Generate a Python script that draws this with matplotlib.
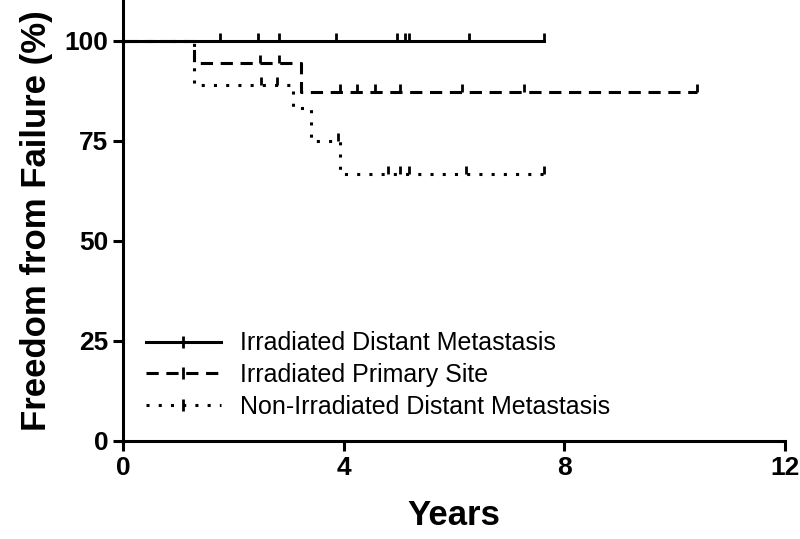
import numpy as np
import matplotlib
matplotlib.use("Agg")
import matplotlib.pyplot as plt

plt.rcParams["font.family"] = "Liberation Sans"

# step curves: times at which value changes, values after each change
solid_t = [0, 7.64]
solid_y = [100, 100]
solid_c = [1.76, 2.45, 2.83, 3.87, 4.97, 5.12, 5.19, 6.28, 7.64]

dash_t = [0, 1.29, 3.23, 10.4]
dash_y = [100, 94.4, 87.2, 87.2]
dash_c = [2.49, 2.83, 3.94, 4.25, 4.56, 5.03, 6.15, 7.26, 10.4]

dot_t = [0, 1.29, 3.09, 3.4, 3.94, 7.64]
dot_y = [100, 88.9, 83.3, 75.0, 66.7, 66.7]
dot_c = [2.5, 2.8, 3.9, 4.81, 5.03, 5.19, 6.22, 7.64]

labels = ["Irradiated Distant Metastasis", "Irradiated Primary Site",
          "Non-Irradiated Distant Metastasis"]

def val_at(t, y, x):
    i = np.searchsorted(t, x, side="right") - 1
    return np.array(y)[i]

fig = plt.figure(figsize=(8, 5.39), dpi=100)
ax = fig.add_axes([123/800, 1-441/539, (785-123)/800, 440/539])

for t, y, c, ls, lab in [(solid_t, solid_y, solid_c, "-", labels[0]),
                         (dash_t, dash_y, dash_c, (0, (4, 2.5)), labels[1]),
                         (dot_t, dot_y, dot_c, (0, (1, 3)), labels[2])]:
    ax.step(t, y, where="post", color="black", lw=2.2, ls=ls)
    ax.plot(c, val_at(t, y, c) + 1.0, ls="none", marker="|", ms=6, mew=2, color="black")
    ax.plot([], [], color="black", lw=2.2, ls=ls, marker="|", ms=8, mew=2, label=lab)

ax.set_xlim(0, 12)
ax.set_ylim(0, 110)
ax.set_xticks([0, 4, 8, 12])
ax.set_yticks([0, 25, 50, 75, 100])
ax.spines["top"].set_visible(False)
ax.spines["right"].set_visible(False)
for s in ["left", "bottom"]:
    ax.spines[s].set_linewidth(2.2)
ax.tick_params(width=2.2, length=7, labelsize=19)
for lb in ax.get_xticklabels() + ax.get_yticklabels():
    lb.set_fontweight("bold")
ax.set_xlabel("Years", fontsize=25, fontweight="bold", labelpad=14)
ax.set_ylabel("Freedom from Failure (%)", fontsize=25, fontweight="bold", labelpad=8)
ax.legend(loc="lower left", frameon=False, fontsize=18, handlelength=3,
          bbox_to_anchor=(0.0, 0.0), labelspacing=0.3)

fig.savefig("out.png", dpi=100)
